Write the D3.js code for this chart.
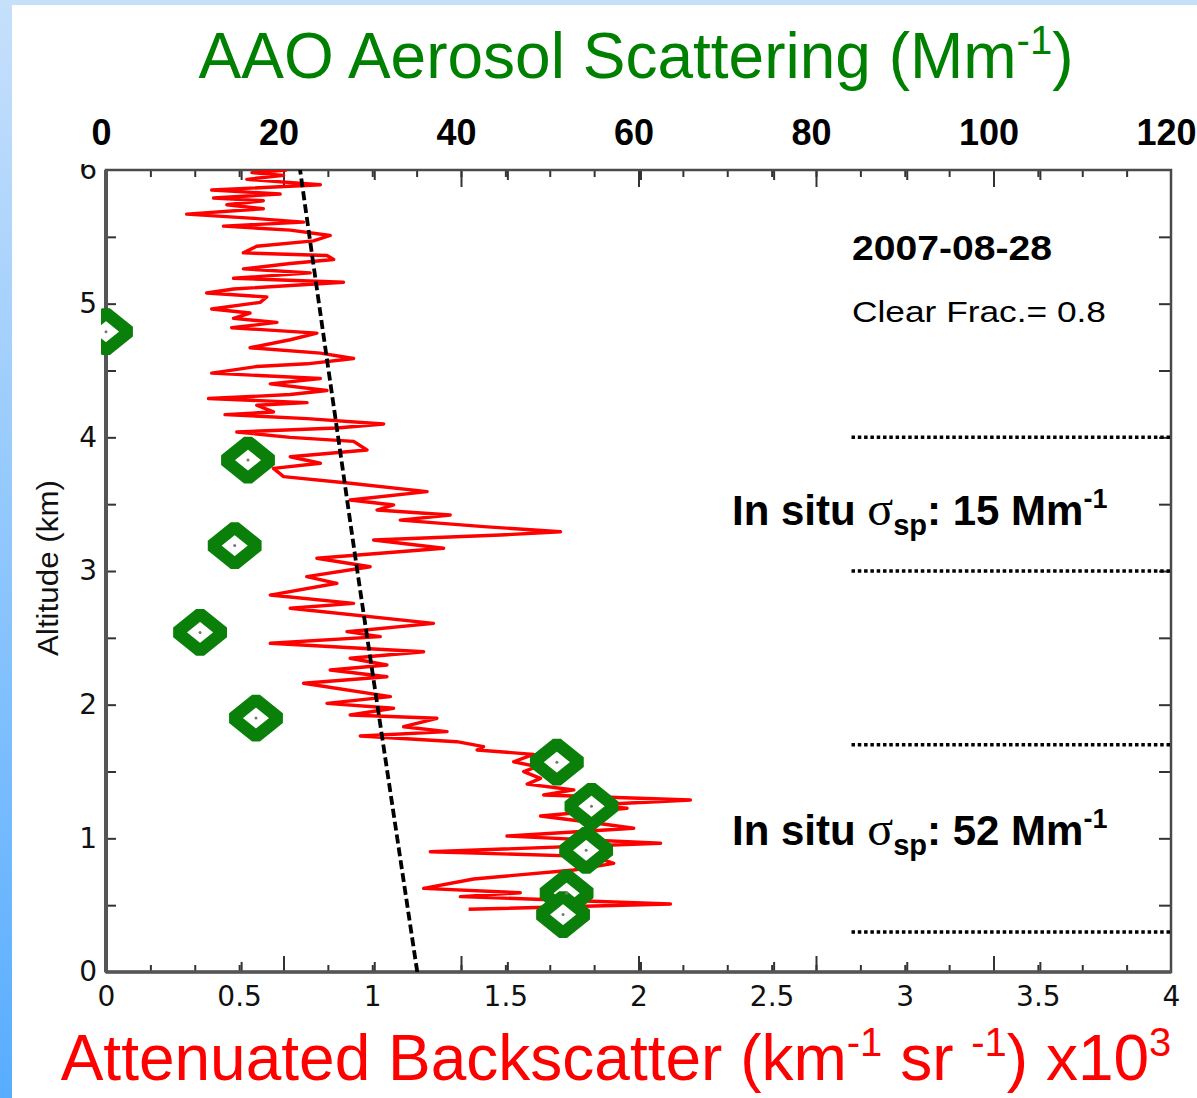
<!DOCTYPE html>
<html>
<head>
<meta charset="utf-8">
<title>AAO scattering vs lidar backscatter</title>
<script src="https://d3js.org/d3.v7.min.js"></script>
<style>
  body { margin: 0; background: #fff; }
  svg { display: block; }
  text { font-family: "Liberation Sans", Arial, sans-serif; }
  .tick line { stroke: #333; stroke-width: 2; }
</style>
</head>
<body>
<svg id="chart" width="1197" height="1098"></svg>
<script>
// lidar profile, altitude (km) / attenuated backscatter (km-1 sr-1 x10^3)
var lidarAlt = [6.00, 5.98, 5.96, 5.93, 5.89, 5.85, 5.82, 5.79, 5.77, 5.74, 5.71, 5.67, 5.64, 5.61, 5.58, 5.55,
  5.51, 5.47, 5.43, 5.38, 5.36, 5.33, 5.30, 5.26, 5.23, 5.19, 5.16, 5.11, 5.08, 5.05, 5.01, 4.96,
  4.93, 4.89, 4.86, 4.82, 4.78, 4.73, 4.67, 4.63, 4.59, 4.55, 4.53, 4.48, 4.44, 4.40, 4.35, 4.32,
  4.29, 4.26, 4.24, 4.19, 4.17, 4.14, 4.10, 4.07, 4.04, 4.00, 3.97, 3.905, 3.855, 3.806, 3.768, 3.706,
  3.656, 3.594, 3.531, 3.494, 3.456, 3.419, 3.381, 3.332, 3.294, 3.269, 3.232, 3.170, 3.095, 3.032,
  2.958, 2.908, 2.820, 2.758, 2.721, 2.608, 2.546, 2.509, 2.459, 2.396, 2.347, 2.297, 2.259, 2.209,
  2.160, 2.060, 2.010, 1.973, 1.923, 1.898, 1.835, 1.798, 1.766, 1.723, 1.686, 1.661, 1.628, 1.573,
  1.536, 1.499, 1.449, 1.406, 1.362, 1.324, 1.287, 1.249, 1.225, 1.167, 1.117, 1.075, 1.017, 0.963,
  0.900, 0.863, 0.813, 0.763, 0.696, 0.626, 0.593, 0.564, 0.509, 0.469];
var lidarBeta = [0.679, 0.548, 0.667, 0.529, 0.805, 0.397, 0.654, 0.404, 0.591, 0.454, 0.591, 0.303, 0.541, 0.742, 0.441, 0.692,
  0.842, 0.779, 0.566, 0.516, 0.830, 0.855, 0.692, 0.516, 0.767, 0.479, 0.892, 0.479, 0.378, 0.604, 0.579, 0.397,
  0.541, 0.479, 0.642, 0.472, 0.792, 0.692, 0.541, 0.805, 0.930, 0.755, 0.566, 0.397, 0.805, 0.617, 0.830, 0.692,
  0.385, 0.755, 0.566, 0.629, 0.447, 0.755, 1.043, 0.867, 0.491, 0.692, 0.930, 0.980, 0.692, 0.805, 0.629, 0.667,
  0.917, 1.206, 0.917, 1.080, 1.018, 1.293, 1.105, 1.419, 1.707, 1.481, 1.005, 1.268, 0.792, 0.992,
  0.754, 0.867, 0.617, 0.930, 0.692, 1.230, 0.905, 1.030, 0.617, 1.193, 0.917, 1.055, 0.842, 1.055,
  0.742, 1.068, 0.830, 1.080, 0.917, 1.243, 1.118, 1.281, 0.955, 1.318, 1.418, 1.394, 1.606, 1.531,
  1.619, 1.569, 1.632, 1.582, 1.757, 1.644, 2.195, 1.820, 1.957, 1.632, 1.832, 1.982, 1.506, 2.083,
  1.218, 1.832, 1.907, 1.757, 1.381, 1.193, 1.556, 1.331, 2.120, 1.362];

// molecular backscatter (dashed)
var molAlt = [0, 1, 2, 3, 4, 5, 6];
var molBeta = [1.169, 1.094, 1.019, 0.944, 0.872, 0.800, 0.729];

// AAO in situ scattering (Mm-1)
var aaoAlt = [4.79, 3.83, 3.19, 2.54, 1.90, 1.57, 1.24, 0.91, 0.59, 0.43];
var aaoScat = [0.0, 16.0, 14.5, 10.6, 16.9, 50.8, 54.7, 54.1, 51.9, 51.5];

// layer boundaries (km) and their left end (backscatter units)
var layerBounds = [4.0, 3.0, 1.7, 0.3];
var layerStart = 2.8;

var altTicks = [0, 1, 2, 3, 4, 5, 6];
var betaTicks = [0, 0.5, 1, 1.5, 2, 2.5, 3, 3.5, 4];
var scatTicks = [0, 20, 40, 60, 80, 100, 120];

var svg = d3.select("#chart");

// blue slide background strips
var defs = svg.append("defs");
var grad = defs.append("linearGradient").attr("id", "side").attr("x1", 0).attr("y1", 0).attr("x2", 0).attr("y2", 1);
grad.append("stop").attr("offset", "0%").attr("stop-color", "#c6e0fb");
grad.append("stop").attr("offset", "100%").attr("stop-color", "#58adff");
svg.append("rect").attr("x", 0).attr("y", 0).attr("width", 1197).attr("height", 5).attr("fill", "#c6e0fa");
svg.append("rect").attr("x", 0).attr("y", 0).attr("width", 12).attr("height", 1098).attr("fill", "url(#side)");

var x = d3.scaleLinear().domain([0, 4]).range([106, 1171]);
var xs = d3.scaleLinear().domain([0, 120]).range([106, 1171]);
var y = d3.scaleLinear().domain([0, 6]).range([972, 170]);

defs.append("clipPath").attr("id", "plot")
  .append("rect").attr("x", 106).attr("y", 170).attr("width", 1065).attr("height", 802);
defs.append("clipPath").attr("id", "marks")
  .append("rect").attr("x", 101).attr("y", 150).attr("width", 1100).attr("height", 840);
defs.append("clipPath").attr("id", "ylab")
  .append("rect").attr("x", 0).attr("y", 164).attr("width", 110).attr("height", 830);

// ticks (inward), minor every 5 Mm-1, major every 20 Mm-1
var minorScat = d3.range(5, 120, 5);
var majorScat = scatTicks.slice(1, -1);
var halfBeta = betaTicks.slice(1, -1);
function noDomain(g) { g.select(".domain").remove(); }

svg.append("g").attr("transform", "translate(0,972)")
  .call(d3.axisBottom(xs).tickValues(minorScat).tickSize(-7).tickFormat("")).call(noDomain);
svg.append("g").attr("transform", "translate(0,972)")
  .call(d3.axisBottom(xs).tickValues(majorScat).tickSize(-16).tickFormat("")).call(noDomain);
svg.append("g").attr("transform", "translate(2,972)")
  .call(d3.axisBottom(x).tickValues(halfBeta).tickSize(-10).tickFormat("")).call(noDomain);
svg.append("g").attr("transform", "translate(0,170)")
  .call(d3.axisTop(xs).tickValues(minorScat).tickSize(-7).tickFormat("")).call(noDomain);
svg.append("g").attr("transform", "translate(0,170)")
  .call(d3.axisTop(xs).tickValues(majorScat).tickSize(-17).tickFormat("")).call(noDomain);
svg.append("g").attr("transform", "translate(2,170)")
  .call(d3.axisTop(x).tickValues(halfBeta).tickSize(-10).tickFormat("")).call(noDomain);

var halfAlt = d3.range(0.5, 6, 0.5);
svg.append("g").attr("transform", "translate(106,0)")
  .call(d3.axisLeft(y).tickValues(halfAlt).tickSize(-10).tickFormat("")).call(noDomain);
svg.append("g").attr("transform", "translate(1171,0)")
  .call(d3.axisRight(y).tickValues(halfAlt).tickSize(-12).tickFormat("")).call(noDomain);

// frame
svg.append("rect").attr("x", 106).attr("y", 170).attr("width", 1065).attr("height", 802)
  .attr("fill", "none").attr("stroke", "#4a4a4a").attr("stroke-width", 2.5);
svg.append("line").attr("x1", 106).attr("x2", 106).attr("y1", 170).attr("y2", 972)
  .attr("stroke", "#555").attr("stroke-width", 4);
svg.append("line").attr("x1", 106).attr("x2", 1171).attr("y1", 972).attr("y2", 972)
  .attr("stroke", "#555").attr("stroke-width", 3.5);

// tick labels
var botAxis = svg.append("g").attr("transform", "translate(0,972)")
  .call(d3.axisBottom(x).tickValues(betaTicks).tickSize(0).tickPadding(14).tickFormat(d3.format("~g")))
  .call(noDomain);
botAxis.selectAll("text").style("font-family", "'DejaVu Sans', sans-serif").attr("font-size", 28).attr("fill", "#111");

var leftAxis = svg.append("g").attr("clip-path", "url(#ylab)")
  .append("g").attr("transform", "translate(106,0)")
  .call(d3.axisLeft(y).tickValues(altTicks).tickSize(0).tickPadding(9).tickFormat(d3.format("d")))
  .call(noDomain);
leftAxis.selectAll("text").style("font-family", "'DejaVu Sans', sans-serif").attr("font-size", 28).attr("fill", "#111");

var topAxis = svg.append("g").attr("transform", "translate(-5,145)")
  .call(d3.axisTop(xs).tickValues(scatTicks).tickSize(0).tickPadding(0))
  .call(noDomain);
topAxis.selectAll("text").attr("font-size", 36).attr("font-weight", "bold").attr("fill", "#000").attr("dy", 0);

svg.append("text").attr("transform", "translate(58,568) rotate(-90)")
  .attr("text-anchor", "middle").attr("font-size", 30).attr("fill", "#111")
  .attr("textLength", 176).attr("lengthAdjust", "spacingAndGlyphs").text("Altitude (km)");

// lidar profile
var lidar = lidarAlt.map(function (a, i) { return [lidarBeta[i], a]; });
var line = d3.line().x(function (d) { return x(d[0]); }).y(function (d) { return y(d[1]); });
svg.append("path").datum(lidar).attr("clip-path", "url(#plot)")
  .attr("d", line).attr("fill", "none").attr("stroke", "#ff0000").attr("stroke-width", 3.4)
  .attr("stroke-linejoin", "round");

// molecular
var mol = molAlt.map(function (a, i) { return [molBeta[i], a]; });
svg.append("path").datum(mol).attr("clip-path", "url(#plot)")
  .attr("d", d3.line().curve(d3.curveMonotoneY).x(function (d) { return x(d[0]); }).y(function (d) { return y(d[1]); }))
  .attr("fill", "none").attr("stroke", "#000").attr("stroke-width", 3.8).attr("stroke-dasharray", "9,4");

// layer boundaries
svg.selectAll(".layer").data(layerBounds).enter().append("line")
  .attr("x1", x(layerStart)).attr("x2", x(4))
  .attr("y1", function (d) { return y(d); }).attr("y2", function (d) { return y(d); })
  .attr("stroke", "#000").attr("stroke-width", 3.5).attr("stroke-dasharray", "3.5,2.8");

// AAO diamonds
var hw = 23, hh = 18.5;
var aao = aaoAlt.map(function (a, i) { return [aaoScat[i], a]; });
var dg = svg.append("g").attr("clip-path", "url(#marks)");
dg.selectAll(".dia").data(aao).enter().append("path")
  .attr("d", function (d) {
    var cx = xs(d[0]), cy = y(d[1]);
    return "M" + (cx - hw) + "," + cy + "L" + cx + "," + (cy - hh) + "L" + (cx + hw) + "," + cy + "L" + cx + "," + (cy + hh) + "Z";
  })
  .attr("fill", "#fff").attr("stroke", "#0a800a").attr("stroke-width", 12.5).attr("stroke-linejoin", "bevel");
dg.selectAll(".dot").data(aao).enter().append("circle")
  .attr("cx", function (d) { return xs(d[0]); }).attr("cy", function (d) { return y(d[1]); })
  .attr("r", 1.5).attr("fill", "#777");

// titles
var t1 = svg.append("text").attr("x", 636).attr("y", 78).attr("text-anchor", "middle")
  .attr("font-size", 64).attr("fill", "#008000");
t1.append("tspan").text("AAO Aerosol Scattering (Mm");
t1.append("tspan").attr("font-size", 40).attr("dy", -24).text("-1");
t1.append("tspan").attr("dy", 24).text(")");

var t2 = svg.append("text").attr("x", 616).attr("y", 1080).attr("text-anchor", "middle")
  .attr("font-size", 64).attr("fill", "#ff0000");
t2.append("tspan").text("Attenuated Backscatter (km");
t2.append("tspan").attr("font-size", 40).attr("dy", -24).text("-1");
t2.append("tspan").attr("dy", 24).text(" sr ");
t2.append("tspan").attr("font-size", 40).attr("dy", -24).text("-1");
t2.append("tspan").attr("dy", 24).text(") x10");
t2.append("tspan").attr("font-size", 40).attr("dy", -24).text("3");

// annotations
svg.append("text").attr("x", 852).attr("y", 260).attr("font-size", 35).attr("font-weight", "bold")
  .attr("textLength", 200).attr("lengthAdjust", "spacingAndGlyphs").text("2007-08-28");
svg.append("text").attr("x", 852).attr("y", 322).attr("font-size", 30)
  .attr("textLength", 254).attr("lengthAdjust", "spacingAndGlyphs").text("Clear Frac.= 0.8");

function insitu(yy, val) {
  var t = svg.append("text").attr("x", 732).attr("y", yy).attr("font-size", 42).attr("font-weight", "bold").attr("fill", "#000");
  t.append("tspan").text("In situ ");
  t.append("tspan").style("font-family", "'Liberation Serif', serif").attr("font-weight", "normal").attr("font-size", 48).text("σ");
  t.append("tspan").attr("font-size", 29).attr("dy", 10).text("sp");
  t.append("tspan").attr("dy", -10).text(": " + val + " Mm");
  t.append("tspan").attr("font-size", 27).attr("dy", -17).text("-1");
}
insitu(525, 15);
insitu(845, 52);
</script>
</body>
</html>
